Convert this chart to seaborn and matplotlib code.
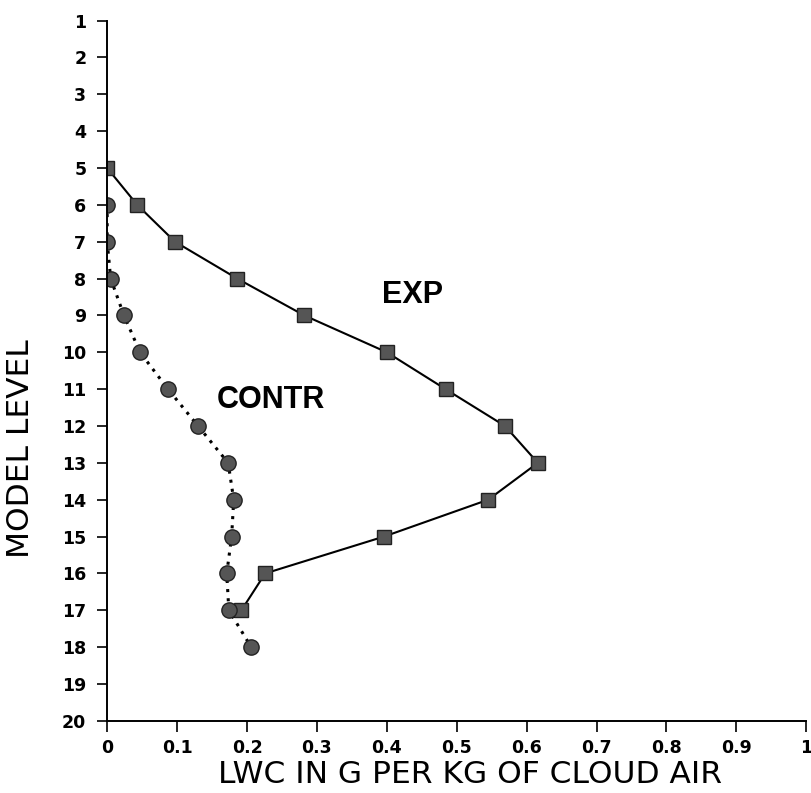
import seaborn as sns
import matplotlib.pyplot as plt
import pandas as pd

# model levels and LWC values
exp_levels = [5, 6, 7, 8, 9, 10, 11, 12, 13, 14, 15, 16, 17]
exp_lwc = [0.0, 0.043, 0.097, 0.186, 0.282, 0.40, 0.484, 0.569, 0.616, 0.545, 0.396, 0.226, 0.192]

contr_levels = [6, 7, 8, 9, 10, 11, 12, 13, 14, 15, 16, 17, 18]
contr_lwc = [0.0, 0.0, 0.005, 0.024, 0.047, 0.087, 0.130, 0.173, 0.181, 0.178, 0.171, 0.174, 0.206]

y_ticks = list(range(1, 21))
x_ticks = [0, 0.1, 0.2, 0.3, 0.4, 0.5, 0.6, 0.7, 0.8, 0.9, 1]
x_tick_labels = ["0", "0.1", "0.2", "0.3", "0.4", "0.5", "0.6", "0.7", "0.8", "0.9", "1"]

sns.set_style("ticks")
plt.rcParams['font.family'] = ['DejaVu Sans']
plt.rcParams['text.color'] = 'black'
plt.rcParams['axes.labelcolor'] = 'black'
plt.rcParams['xtick.color'] = 'black'
plt.rcParams['ytick.color'] = 'black'
plt.rcParams['axes.edgecolor'] = 'black'

exp_df = pd.DataFrame({"lwc": exp_lwc, "level": exp_levels})
contr_df = pd.DataFrame({"lwc": contr_lwc, "level": contr_levels})

fig = plt.figure(figsize=(8.12, 7.93), dpi=100)
ax = fig.add_axes([0.132, 0.091, 0.861, 0.883])

sns.lineplot(data=exp_df, x="lwc", y="level", sort=False, estimator=None, ax=ax,
             color="black", linewidth=1.5, marker="s", markersize=10,
             markerfacecolor="#555555", markeredgecolor="#222222", markeredgewidth=1)
sns.lineplot(data=contr_df, x="lwc", y="level", sort=False, estimator=None, ax=ax,
             color="black", linewidth=2.2, linestyle=(0, (1, 2)), marker="o", markersize=11,
             markerfacecolor="#555555", markeredgecolor="#222222", markeredgewidth=1)

label_font = dict(family=["Liberation Sans", "DejaVu Sans"], fontsize=22, fontweight="bold")
ax.text(0.437, 8.45, "EXP", ha="center", va="center", **label_font)
ax.text(0.234, 11.3, "CONTR", ha="center", va="center", **label_font)

ax.set_xlim(0, 1)
ax.set_ylim(20, 1)
ax.set_xticks(x_ticks)
ax.set_xticklabels(x_tick_labels)
ax.set_yticks(y_ticks)
ax.tick_params(axis="both", labelsize=12.5, width=1.2, direction="out")
ax.tick_params(axis="y", length=7, pad=8)
ax.tick_params(axis="x", length=8, pad=5)
for lbl in ax.get_xticklabels() + ax.get_yticklabels():
    lbl.set_fontweight("bold")

ax.set_xlabel("LWC IN G PER KG OF CLOUD AIR", fontsize=22.5)
ax.set_ylabel("MODEL LEVEL", fontsize=22.5)
ax.xaxis.set_label_coords(0.519, -0.056)
ax.yaxis.set_label_coords(-0.103, 0.389)

sns.despine(ax=ax)
ax.spines["left"].set_linewidth(1.4)
ax.spines["bottom"].set_linewidth(1.4)

fig.savefig("out.png", dpi=100)
